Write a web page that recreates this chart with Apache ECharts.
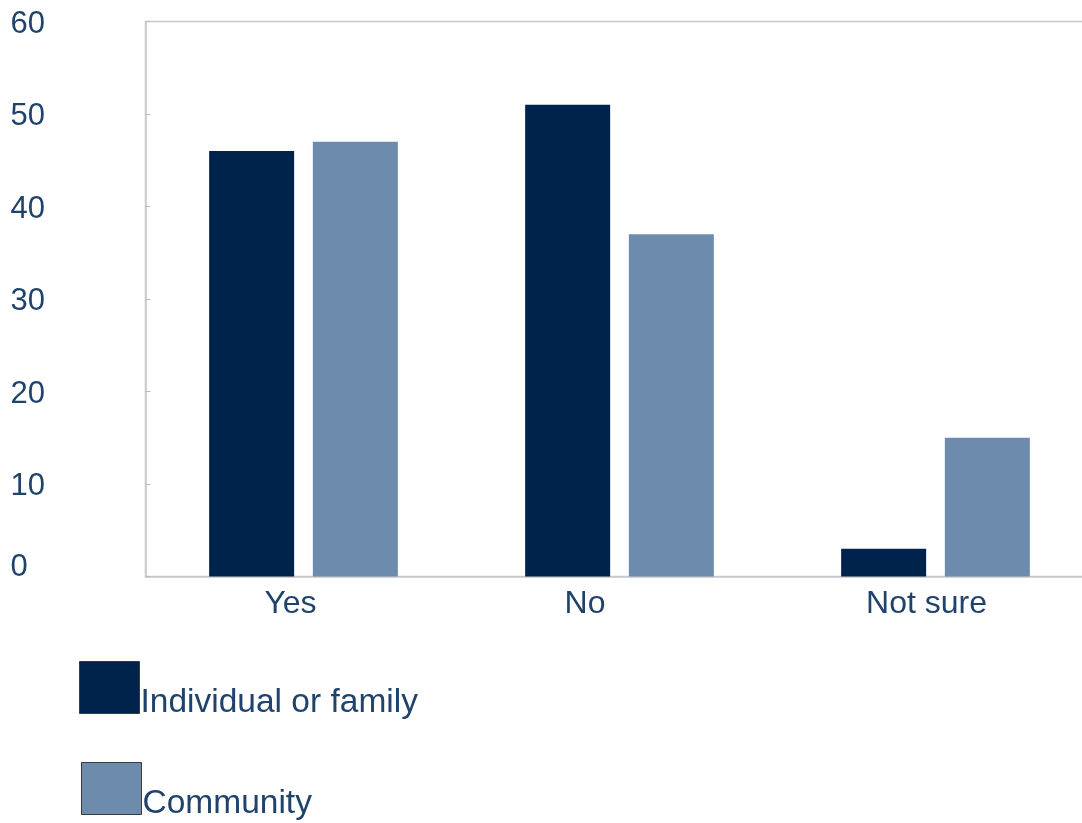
<!DOCTYPE html>
<html>
<head>
<meta charset="utf-8">
<script src="https://cdn.jsdelivr.net/npm/echarts@6/dist/echarts.min.js"></script>
<style>
html,body{margin:0;padding:0;background:#fff;}
#chart{width:1082px;height:823px;}
</style>
</head>
<body>
<div id="chart"></div>
<script>
const categories = ['Yes', 'No', 'Not sure'];
const individual = [46, 51, 3];
const community = [47, 37, 15];
const seriesNames = ['Individual or family', 'Community'];
const yTicks = [0, 10, 20, 30, 40, 50, 60];

const FONT = '"Liberation Sans", Arial, sans-serif';
const TEXT = '#1f436b';
const labelShift = [26, 69, 18];

function legendFor(name, left, top) {
  return {
    orient: 'vertical',
    left: left, top: top, padding: 0,
    itemWidth: 60, itemHeight: 52,
    icon: 'rect',
    itemStyle: { borderColor: '#3a3a3a', borderWidth: 1 },
    formatter: n => '{t|' + n + '}',
    textStyle: {
      fontFamily: FONT, fontSize: 33.5, color: TEXT,
      rich: { t: { fontFamily: FONT, fontSize: 33.5, color: TEXT, padding: [30, 0, 0, -4] } }
    },
    data: [name]
  };
}

const chart = echarts.init(document.getElementById('chart'));
chart.setOption({
  animation: false,
  backgroundColor: '#ffffff',
  grid: {
    left: 145.5, right: -11.5, top: 21.5, bottom: 246.5,
    outerBoundsMode: 'none',
    show: true, borderColor: '#c9c9c9', borderWidth: 1.5, backgroundColor: 'transparent'
  },
  legend: [legendFor(seriesNames[0], 79, 661), legendFor(seriesNames[1], 81, 762)],
  xAxis: {
    type: 'category',
    data: categories.map((c, i) => ({ value: c, textStyle: { padding: [0, labelShift[i], 0, 0] } })),
    axisLine: { lineStyle: { color: '#c9c9c9', width: 1.5 } },
    axisTick: { show: false },
    axisLabel: { fontFamily: FONT, fontSize: 32, color: TEXT, margin: 12 },
    splitLine: { show: false }
  },
  yAxis: {
    type: 'value',
    min: yTicks[0], max: yTicks[yTicks.length - 1], interval: 10,
    axisLine: { show: true, lineStyle: { color: '#c9c9c9', width: 1.5 } },
    axisTick: { show: true, inside: true, length: 5, lineStyle: { color: '#bbbbbb' } },
    splitLine: { show: false },
    axisLabel: {
      fontFamily: FONT, fontSize: 31, color: TEXT, align: 'left', margin: 135,
      formatter: v => v === 0 ? '{z|0}' : '{n|' + v + '}',
      rich: {
        z: { fontFamily: FONT, fontSize: 31, color: TEXT, padding: [0, 0, 18, 0] },
        n: { fontFamily: FONT, fontSize: 31, color: TEXT, padding: [5, 0, 0, 0] }
      }
    }
  },
  series: [
    {
      name: seriesNames[0], type: 'bar', data: individual,
      barWidth: 85, barGap: '22%',
      itemStyle: { color: '#00234b' }
    },
    {
      name: seriesNames[1], type: 'bar', data: community,
      barWidth: 85,
      itemStyle: { color: '#6d8bad' }
    }
  ]
});
</script>
</body>
</html>
